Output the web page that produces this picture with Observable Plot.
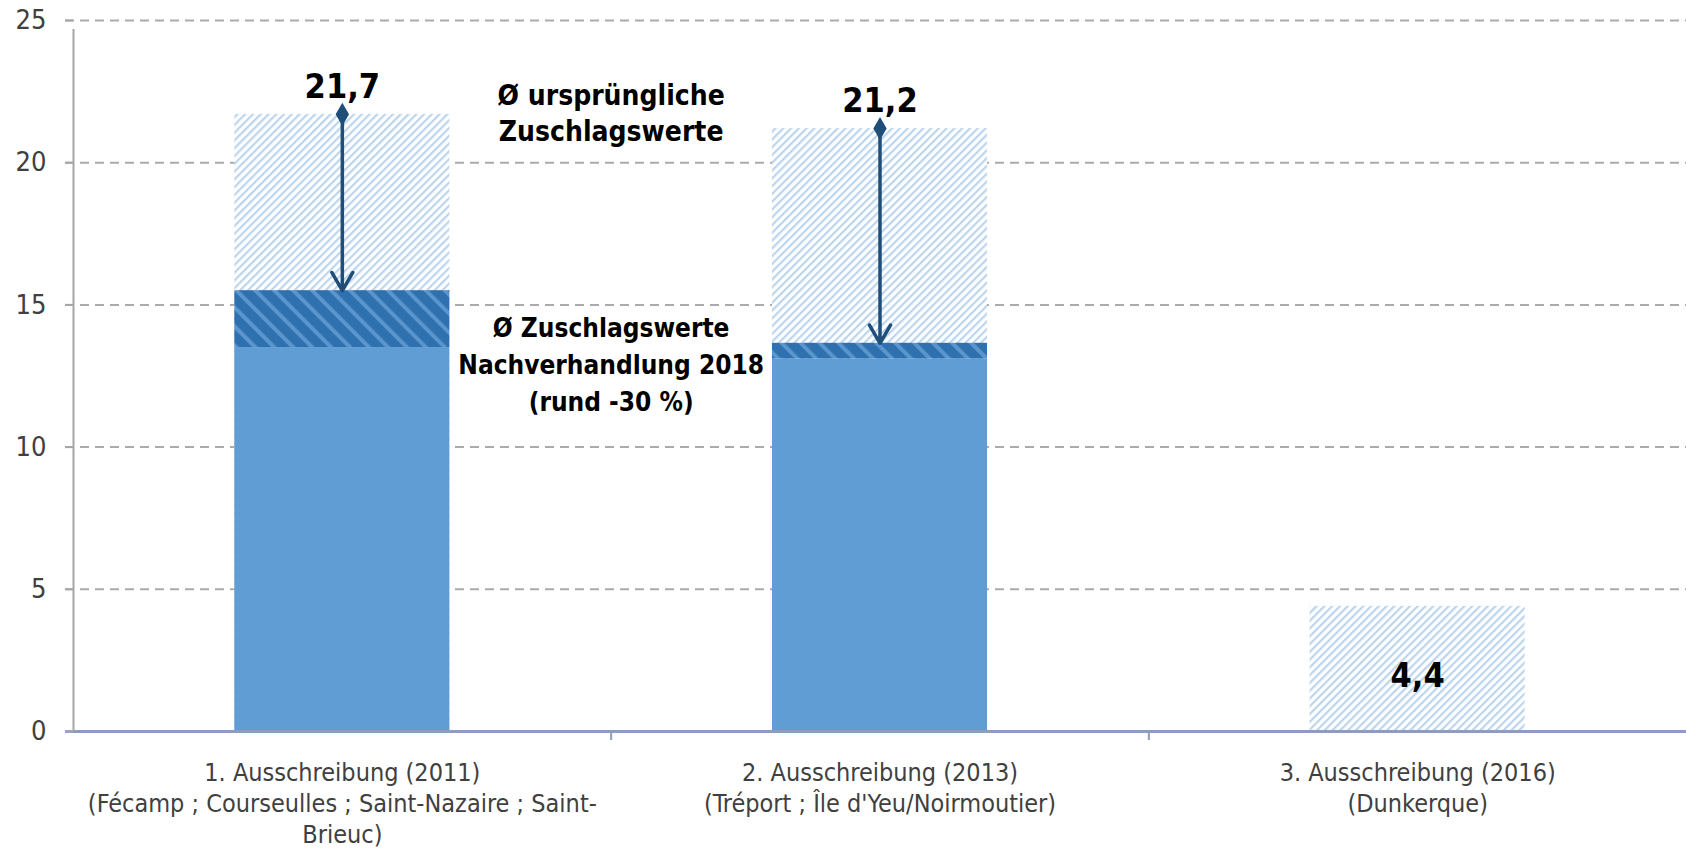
<!DOCTYPE html>
<html><head><meta charset="utf-8">
<script src="https://cdn.jsdelivr.net/npm/d3@7"></script>
<script src="https://cdn.jsdelivr.net/npm/@observablehq/plot@0.6"></script>
<style>
html,body{margin:0;padding:0;background:#fff;}
#chart{width:1686px;height:854px;}
</style></head><body><div id="chart"></div>
<script>
const categories = [
  "1. Ausschreibung (2011)\n(Fécamp ; Courseulles ; Saint-Nazaire ; Saint-\nBrieuc)",
  "2. Ausschreibung (2013)\n(Tréport ; Île d'Yeu/Noirmoutier)",
  "3. Ausschreibung (2016)\n(Dunkerque)"
];
const originalValues = [21.7, 21.2, 4.4];
const renegotiatedValues = [15.5, 13.65, null];
const baseValues = [13.5, 13.1, null];
const valueLabels = ["21,7", "21,2", "4,4"];
const yTicks = [0, 5, 10, 15, 20, 25];
const annotationTexts = ["Ø ursprüngliche\nZuschlagswerte", "Ø Zuschlagswerte\nNachverhandlung 2018\n(rund -30 %)"];
const annotationY = [21.8, 13.0];

const rows = categories.map((c, i) => ({cat: c, orig: originalValues[i], reneg: renegotiatedValues[i], base: baseValues[i], label: valueLabels[i]}));
const withReneg = rows.filter(d => d.reneg != null);
const withoutReneg = rows.filter(d => d.reneg == null);
const annotations = annotationTexts.map((t, i) => ({text: t, y: annotationY[i]}));

const W = 1686, H = 854, mL = 73, mR = 0, mT = 20, mB = 123;
const step = (W - mL - mR) / categories.length;
const FONT = '"DejaVu Sans Condensed","Liberation Sans Narrow",sans-serif';

const plot = Plot.plot({
  width: W, height: H,
  marginLeft: mL, marginRight: mR, marginTop: mT, marginBottom: mB,
  style: {fontFamily: FONT, background: "#fff"},
  x: {domain: categories, paddingInner: 0.6, paddingOuter: 0.3, round: false, label: null},
  y: {domain: [0, 25], label: null},
  marks: [
    Plot.ruleY(yTicks.slice(1), {stroke: "#ababab", strokeWidth: 2, strokeDasharray: "9,6", insetLeft: -8}),
    Plot.barY(rows, {x: "cat", y: "orig", fill: "url(#hatchLight)"}),
    Plot.barY(withReneg, {x: "cat", y1: 0, y2: "base", fill: "#5f9dd4"}),
    Plot.barY(withReneg, {x: "cat", y1: "base", y2: "reneg", fill: "url(#hatchDark)"}),
    Plot.ruleY([0], {stroke: "#8e9cc2", strokeWidth: 3, insetLeft: -8}),
    Plot.ruleX([categories[0]], {x: d => d, y1: 0, y2: 25, dx: -step / 2, insetBottom: -9, stroke: "#a6a6a6", strokeWidth: 2}),
    Plot.ruleX(categories.slice(1), {x: d => d, y1: 0, y2: 0, dx: -step / 2, insetBottom: -9, stroke: "#8e9cc2", strokeWidth: 2}),
    Plot.arrow(withReneg, {x: "cat", y1: "orig", y2: "reneg", stroke: "#1f4e79", strokeWidth: 3.5, headLength: 9, headAngle: 60}),
    Plot.dot(withReneg, {x: "cat", y: "orig", symbol: "diamond", r: 7, fill: "#1f4e79"}),
    Plot.text(withReneg, {x: "cat", y: "orig", text: "label", dy: -27, fontSize: 34, fontWeight: 700, fill: "#000"}),
    Plot.text(withoutReneg, {x: "cat", y: d => d.orig / 2, text: "label", dy: 7, fontSize: 34, fontWeight: 700, fill: "#000"}),
    Plot.text(annotations, {x: () => categories[1], y: "y", dx: -step / 2, text: "text", fontSize: 28, fontWeight: 700, lineHeight: 1.3, fill: "#000", filter: (d, i) => i === 0}),
    Plot.text(annotations, {x: () => categories[1], y: "y", dx: -step / 2, text: "text", fontSize: 26, fontWeight: 700, lineHeight: 1.42, fill: "#000", filter: (d, i) => i === 1}),
    Plot.axisY({ticks: yTicks, tickSize: 8, tickPadding: 19, fontSize: 27, color: "#404040", stroke: "#a6a6a6", strokeWidth: 2, label: null}),
    Plot.axisX({tickSize: 0, tickPadding: 27, fontSize: 25, lineHeight: 1.25, color: "#404040", label: null})
  ]
});

const ns = "http://www.w3.org/2000/svg";
const defs = document.createElementNS(ns, "defs");
defs.innerHTML = `
<pattern id="hatchLight" patternUnits="userSpaceOnUse" width="5.5" height="5.5" patternTransform="rotate(45)">
  <rect width="5.5" height="5.5" fill="#ffffff"/>
  <rect x="0" y="0" width="2.2" height="5.5" fill="#bcd5ee"/>
</pattern>
<pattern id="hatchDark" patternUnits="userSpaceOnUse" width="13.4" height="13.4" patternTransform="rotate(-45)">
  <rect width="13.4" height="13.4" fill="#2f70ae"/>
  <rect x="0" y="0" width="4" height="13.4" fill="#5a95cd"/>
</pattern>`;
plot.insertBefore(defs, plot.firstChild);
document.getElementById("chart").appendChild(plot);
</script>
</body></html>
